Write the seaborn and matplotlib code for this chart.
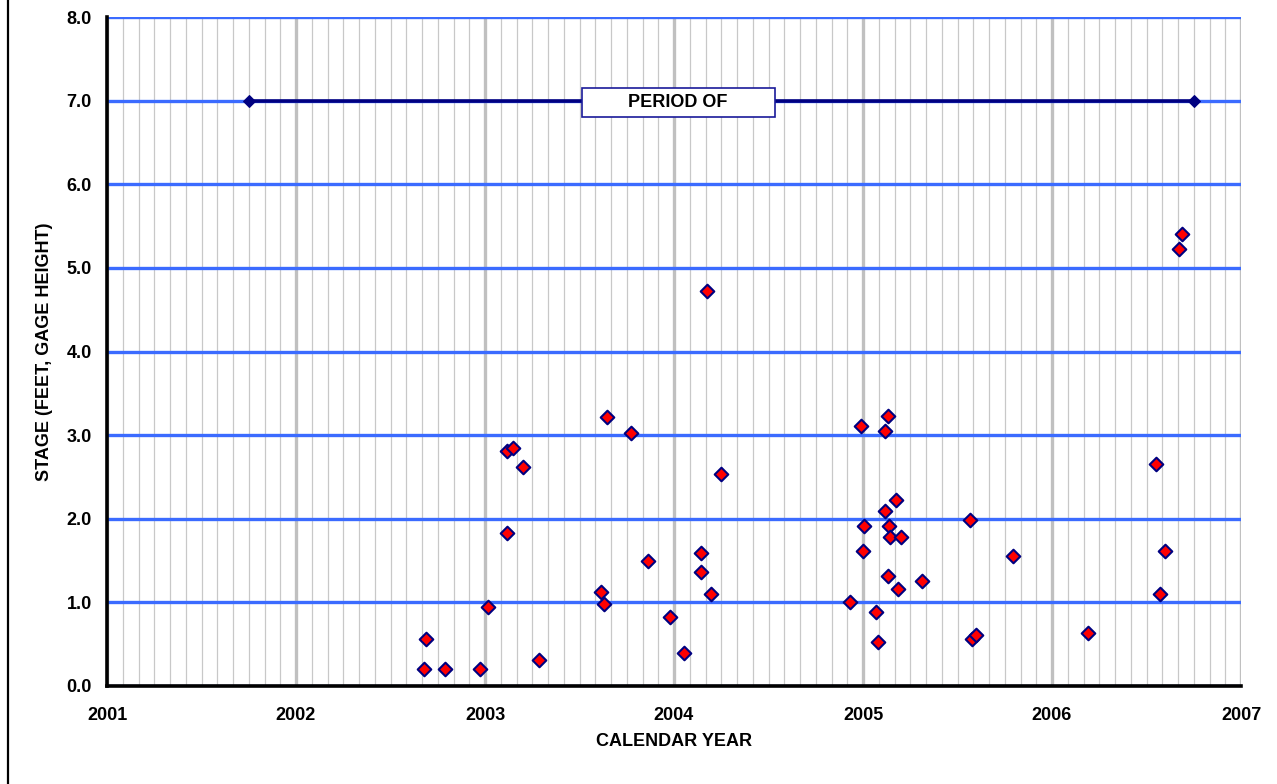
import numpy as np
import pandas as pd
import matplotlib
matplotlib.use("Agg")
import matplotlib.pyplot as plt
from matplotlib.lines import Line2D
from matplotlib.patches import Rectangle
from matplotlib.ticker import MultipleLocator
import seaborn as sns

# ---- data (decimal calendar year, stage in feet) ----
sample_year = [2002.675, 2002.689, 2002.790, 2002.972, 2003.014, 2003.115, 2003.115,
               2003.148, 2003.203, 2003.284, 2003.612, 2003.630, 2003.647, 2003.770,
               2003.861, 2003.980, 2004.053, 2004.141, 2004.141, 2004.173, 2004.194,
               2004.249, 2004.929, 2004.991, 2005.002, 2005.007, 2005.069, 2005.079,
               2005.116, 2005.116, 2005.130, 2005.134, 2005.136, 2005.141, 2005.175,
               2005.183, 2005.201, 2005.310, 2005.564, 2005.579, 2005.598, 2005.796,
               2006.192, 2006.550, 2006.573, 2006.600, 2006.670, 2006.688]
stage_ft = [0.20, 0.56, 0.20, 0.20, 0.94, 1.83, 2.81,
            2.85, 2.62, 0.31, 1.12, 0.98, 3.22, 3.03,
            1.49, 0.83, 0.39, 1.59, 1.36, 4.72, 1.10,
            2.54, 1.01, 3.11, 1.62, 1.91, 0.89, 0.53,
            3.05, 2.09, 1.31, 3.23, 1.91, 1.78, 2.23,
            1.16, 1.78, 1.26, 1.99, 0.56, 0.61, 1.55,
            0.63, 2.66, 1.10, 1.61, 5.22, 5.41]

period_year = [2001.75, 2006.75]
period_stage = [7.0, 7.0]
period_label = "PERIOD OF"

year_ticks = [2001, 2002, 2003, 2004, 2005, 2006, 2007]
stage_ticks = [0, 1, 2, 3, 4, 5, 6, 7, 8]

x_label = "CALENDAR YEAR"
y_label = "STAGE (FEET, GAGE HEIGHT)"

# ---- style ----
sns.set_style("white")
plt.rcParams["font.family"] = ["Liberation Sans", "DejaVu Sans"]
plt.rcParams["font.weight"] = "bold"
plt.rcParams["text.color"] = "black"
plt.rcParams["xtick.color"] = "black"
plt.rcParams["ytick.color"] = "black"
plt.rcParams["axes.labelcolor"] = "black"

W, H = 1277, 784
fig = plt.figure(figsize=(W / 100, H / 100), dpi=100)
ax = fig.add_axes([107 / W, 1 - 686 / H, (1241 - 107) / W, (686 - 17) / H])

ax.set_xlim(2001, 2007)
ax.set_ylim(0, 8)

# grid
ax.xaxis.set_major_locator(MultipleLocator(1))
ax.xaxis.set_minor_locator(MultipleLocator(1 / 12))
ax.yaxis.set_major_locator(MultipleLocator(1))
ax.grid(which="minor", axis="x", color="#c8c8c8", linewidth=0.9, zorder=0)
ax.grid(which="major", axis="x", color="#c0c0c0", linewidth=2.4, zorder=0)
ax.grid(which="major", axis="y", color="#3b6bff", linewidth=2.4, zorder=0)
ax.set_axisbelow(True)

df = pd.DataFrame({"year": sample_year, "stage": stage_ft})
sns.scatterplot(data=df, x="year", y="stage", marker="D", s=48,
                color="#ff0000", edgecolor="#000080", linewidth=1.5,
                ax=ax, zorder=5, clip_on=False)

pdf = pd.DataFrame({"year": period_year, "stage": period_stage})
sns.lineplot(data=pdf, x="year", y="stage", color="#000080", linewidth=2.6,
             marker="D", markersize=6.5, markeredgecolor="#000080", ax=ax, zorder=4)

# label box for the period line
ax.add_patch(Rectangle((2003.513, 6.806), 2004.534 - 2003.513, 7.153 - 6.806,
                       facecolor="white", edgecolor="#1a1a99", linewidth=1.2,
                       zorder=6))
ax.text(2004.02, 6.98, period_label, ha="center", va="center", fontsize=13,
        fontweight="bold", color="black", zorder=7)

ax.set_xticks(year_ticks)
ax.set_xticklabels([str(y) for y in year_ticks])
ax.set_yticks(stage_ticks)
ax.set_yticklabels([f"{v:.1f}" for v in stage_ticks])

for s in ["top", "right"]:
    ax.spines[s].set_visible(False)
for s in ["left", "bottom"]:
    ax.spines[s].set_visible(True)
    ax.spines[s].set_color("black")
    ax.spines[s].set_linewidth(2.6)
    ax.spines[s].set_zorder(8)

ax.tick_params(axis="both", which="major", direction="out", length=5, width=2.4,
               color="black", labelsize=13)
ax.tick_params(axis="x", which="major", pad=10)
ax.tick_params(axis="y", which="major", pad=6)
ax.tick_params(axis="x", which="minor", length=0)
for lab in ax.get_xticklabels() + ax.get_yticklabels():
    lab.set_fontweight("bold")

ax.set_xlabel(x_label, fontsize=13, fontweight="bold")
ax.set_ylabel(y_label, fontsize=13, fontweight="bold")
ax.xaxis.set_label_coords(0.5, (686 - 741) / 669)
ax.xaxis.label.set_va("center")
ax.yaxis.set_label_coords((45 - 107) / 1134, 0.5)
ax.yaxis.label.set_va("center")

# left figure border line
fig.add_artist(Line2D([8 / W, 8 / W], [0, 1], color="black", linewidth=1.6,
                      transform=fig.transFigure))

fig.savefig("out.png", dpi=100, facecolor="white")
